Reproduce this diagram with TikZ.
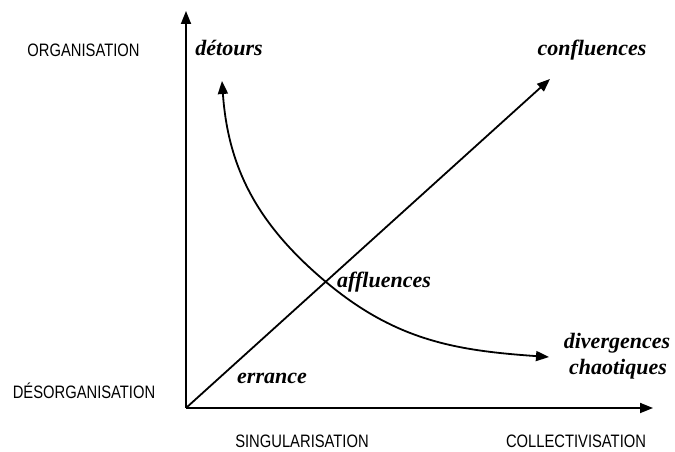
\documentclass[tikz,border=0pt]{standalone}
\usepackage{fontspec}
\setmainfont{Liberation Serif}
\newfontfamily\axfont{Liberation Sans}
\usetikzlibrary{arrows.meta}
\tikzset{
  axlabel/.style={anchor=base, inner sep=0pt, font=\axfont\fontsize{18}{20}\selectfont, xscale=0.82},
  itlabel/.style={anchor=base, inner sep=0pt, font=\fontsize{22}{26}\selectfont\bfseries\itshape},
  arr/.style={line width=1.8pt, -{Triangle[length=13pt,width=10pt]}},
  crv/.style={line width=1.8pt, {Triangle[length=13pt,width=10pt]}-{Triangle[length=13pt,width=10pt]}}
}
\begin{document}
\begin{tikzpicture}[x=1pt,y=1pt]
\useasboundingbox (0,0) rectangle (675,452);
\coordinate (O) at (186,44);
\coordinate (ytip) at (186,441);
\coordinate (xtip) at (653,44);
\coordinate (dtip) at (550,373);
\coordinate (cstart) at (222,371);
\coordinate (cross) at (326,170);
\coordinate (cend) at (549,95);
\draw[arr] (O) -- (ytip);
\draw[arr] (O) -- (xtip);
\draw[arr] (O) -- (dtip);
\draw[crv] (cstart) to[out=-86, in=140] (cross) to[out=-40, in=176] (cend);
\node[axlabel] (org) at (83.5,395) {ORGANISATION};
\node[axlabel] (desorg) at (84,53) {DÉSORGANISATION};
\node[axlabel] (sing) at (302,4) {SINGULARISATION};
\node[axlabel] (coll) at (576,4) {COLLECTIVISATION};
\node[itlabel] (detours) at (229,396) {détours};
\node[itlabel] (confl) at (592,396) {confluences};
\node[itlabel] (affl) at (384,164) {affluences};
\node[itlabel] (err) at (272,68) {errance};
\node[itlabel] (div) at (617,103) {divergences};
\node[itlabel] (chao) at (618,77) {chaotiques};
\end{tikzpicture}
\end{document}
